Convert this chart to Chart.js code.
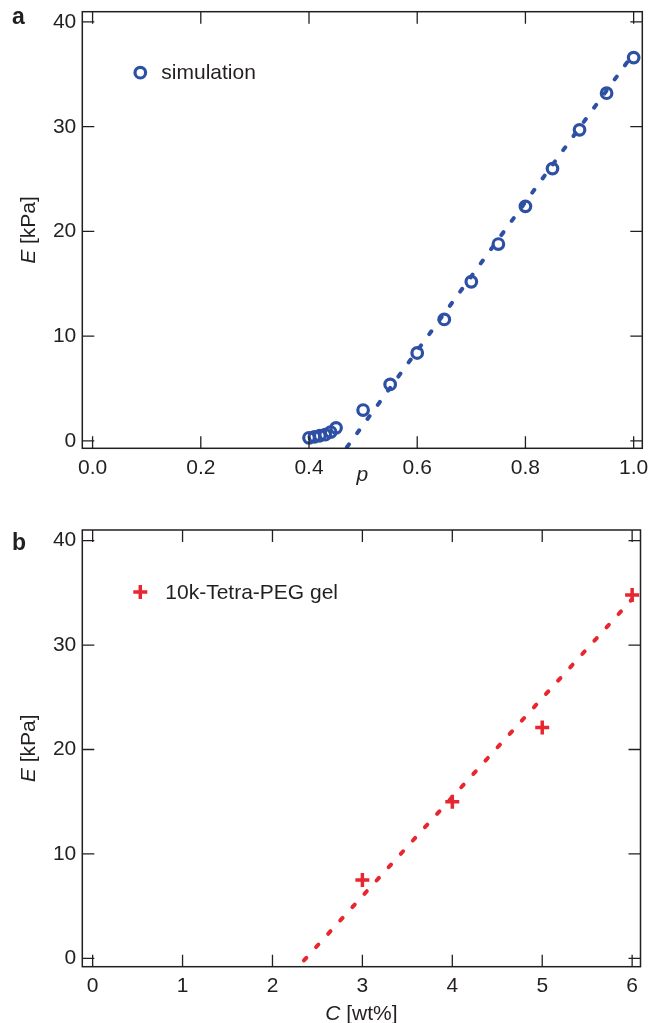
<!DOCTYPE html>
<html>
<head>
<meta charset="utf-8">
<script src="https://cdn.jsdelivr.net/npm/chart.js@4.4.0/dist/chart.umd.min.js"></script>
<style>
body{margin:0;background:#fff;width:651px;height:1023px;overflow:hidden;position:relative}
.panel{position:absolute;left:0;width:651px}
</style>
</head>
<body>
<div class="panel" style="top:0;height:505px"><canvas id="chartA" width="651" height="505"></canvas></div>
<div class="panel" style="top:505px;height:518px"><canvas id="chartB" width="651" height="518"></canvas></div>
<script>
// panel a: simulation
const simP=[0.40,0.41,0.42,0.43,0.44,0.45,0.50,0.55,0.60,0.65,0.70,0.75,0.80,0.85,0.90,0.95,1.00]
const simE=[0.3,0.4,0.5,0.6,0.85,1.25,2.95,5.4,8.4,11.6,15.2,18.8,22.4,26.0,29.7,33.2,36.6]
const fitP=[0.47,1.0]
const fitPE=[-0.6,37.0]
const pTicks=[0,0.2,0.4,0.6,0.8,1.0]

// panel b: 10k-Tetra-PEG gel
const gelC=[3,4,5,6]
const gelE=[7.5,15.0,22.1,34.8]
const fitC=[2.35,6.0]
const fitCE=[-0.2,34.4]
const cTicks=[0,1,2,3,4,5,6]

const eTicks=[0,10,20,30,40]

const blue="#2e50a4"
const red="#e8262f"
const ink="#231f20"
const FONT="Liberation Sans, Arial, Helvetica, sans-serif"

function pts(xs,ys){
return xs.map((v,i)=>({x:v,y:ys[i]}))
}

function noPad(s){
s.paddingTop=0
s.paddingBottom=0
s.paddingLeft=0
s.paddingRight=0
}

// frame, inward ticks on all sides, legend, axis titles, panel letter
const frame={
id:"frame",
afterDraw(chart,args,o){
let ctx=chart.ctx
let a=chart.chartArea
let x=chart.scales.x
let y=chart.scales.y
ctx.save()
ctx.strokeStyle=ink
ctx.lineWidth=1.5
ctx.strokeRect(a.left,a.top,a.right-a.left,a.bottom-a.top)
ctx.lineWidth=1.3
ctx.beginPath()
x.ticks.forEach(t=>{
let px=x.getPixelForValue(t.value)
ctx.moveTo(px,a.bottom);ctx.lineTo(px,a.bottom-12)
ctx.moveTo(px,a.top);ctx.lineTo(px,a.top+12)
})
y.ticks.forEach(t=>{
let py=y.getPixelForValue(t.value)
ctx.moveTo(a.left,py);ctx.lineTo(a.left+12,py)
ctx.moveTo(a.right,py);ctx.lineTo(a.right-12,py)
})
ctx.stroke()

// legend
let ds=chart.data.datasets[0]
let lx=a.left+o.legend.dx
let ly=a.top+o.legend.dy
ctx.strokeStyle=ds.borderColor
ctx.lineWidth=ds.pointBorderWidth
ctx.beginPath()
if(ds.pointStyle==="circle"){
ctx.arc(lx,ly,ds.pointRadius,0,Math.PI*2)
}else{
ctx.moveTo(lx-ds.pointRadius,ly);ctx.lineTo(lx+ds.pointRadius,ly)
ctx.moveTo(lx,ly-ds.pointRadius);ctx.lineTo(lx,ly+ds.pointRadius)
}
ctx.stroke()
ctx.fillStyle=ink
ctx.font="21px "+FONT
ctx.textBaseline="middle"
ctx.textAlign="left"
ctx.fillText(ds.label,lx+o.legend.gap,ly+1)

// titles made of italic + upright parts
ctx.textBaseline="alphabetic"
function parts(list,cx,cy,rot){
ctx.save()
ctx.translate(cx,cy)
ctx.rotate(rot)
let w=0
list.forEach(p=>{ctx.font=p[1]+" 21px "+FONT;w+=ctx.measureText(p[0]).width})
let sx=-w/2
list.forEach(p=>{ctx.font=p[1]+" 21px "+FONT;ctx.fillText(p[0],sx,0);sx+=ctx.measureText(p[0]).width})
ctx.restore()
}
parts(o.xTitle,(a.left+a.right)/2,o.xTitleY,0)
parts(o.yTitle,35,(a.top+a.bottom)/2,-Math.PI/2)

ctx.font="bold 23px "+FONT
ctx.fillText(o.letter,12,o.letterY)
ctx.restore()
}
}

function makeChart(id,cfg){
return new Chart(document.getElementById(id),{
type:"scatter",
data:{datasets:cfg.datasets},
options:{
responsive:false,
animation:false,
devicePixelRatio:1,
layout:{padding:{top:cfg.padTop,right:8.7,left:0,bottom:0}},
plugins:{
legend:{display:false},
tooltip:{enabled:false},
frame:cfg.frame
},
scales:{
x:{
type:"linear",
min:cfg.xMin,max:cfg.xMax,
afterBuildTicks:s=>{s.ticks=cfg.xTicks.map(v=>({value:v}))},
afterFit:s=>{s.height=cfg.xH;noPad(s)},
grid:{display:false,drawTicks:false},
border:{display:false},
ticks:{color:ink,font:{family:FONT,size:21},padding:7,maxRotation:0,autoSkip:false,callback:cfg.xFmt}
},
y:{
type:"linear",
min:cfg.yMin,max:cfg.yMax,
afterBuildTicks:s=>{s.ticks=eTicks.map(v=>({value:v}))},
afterFit:s=>{s.width=82.3;noPad(s)},
grid:{display:false,drawTicks:false},
border:{display:false},
ticks:{color:ink,font:{family:FONT,size:21},padding:6,autoSkip:false,callback:v=>String(v)}
}
}
},
plugins:[frame]
})
}

makeChart("chartA",{
datasets:[
{label:"simulation",data:pts(simP,simE),showLine:false,pointStyle:"circle",pointRadius:5.3,pointBorderWidth:3.2,borderColor:blue,pointBorderColor:blue,backgroundColor:"rgba(0,0,0,0)",pointBackgroundColor:"rgba(0,0,0,0)"},
{label:"fit",data:pts(fitP,fitPE),showLine:true,pointRadius:0,borderColor:blue,borderWidth:4,borderDash:[3.5,14],borderCapStyle:"round",fill:false}
],
padTop:11.7,xH:56.7,
xMin:-0.019,xMax:1.016,yMin:-0.7,yMax:40.98,
xTicks:pTicks,xFmt:v=>v.toFixed(1),
frame:{legend:{dx:58,dy:61,gap:21},xTitle:[["p","italic"]],xTitleY:481,yTitle:[["E","italic"],[" [kPa]","normal"]],letter:"a",letterY:24}
})

makeChart("chartB",{
datasets:[
{label:"10k-Tetra-PEG gel",data:pts(gelC,gelE),showLine:false,pointStyle:"cross",pointRadius:7,pointBorderWidth:3.5,borderColor:red,pointBorderColor:red,backgroundColor:red},
{label:"fit",data:pts(fitC,fitCE),showLine:true,pointRadius:0,borderColor:red,borderWidth:4,borderDash:[3.5,14.5],borderCapStyle:"round",fill:false}
],
padTop:25,xH:56.3,
xMin:-0.115,xMax:6.093,yMin:-0.8,yMax:41.02,
xTicks:cTicks,xFmt:v=>String(v),
frame:{legend:{dx:58,dy:62,gap:25},xTitle:[["C","italic"],[" [wt%]","normal"]],xTitleY:515,yTitle:[["E","italic"],[" [kPa]","normal"]],letter:"b",letterY:45}
})
</script>
</body>
</html>
